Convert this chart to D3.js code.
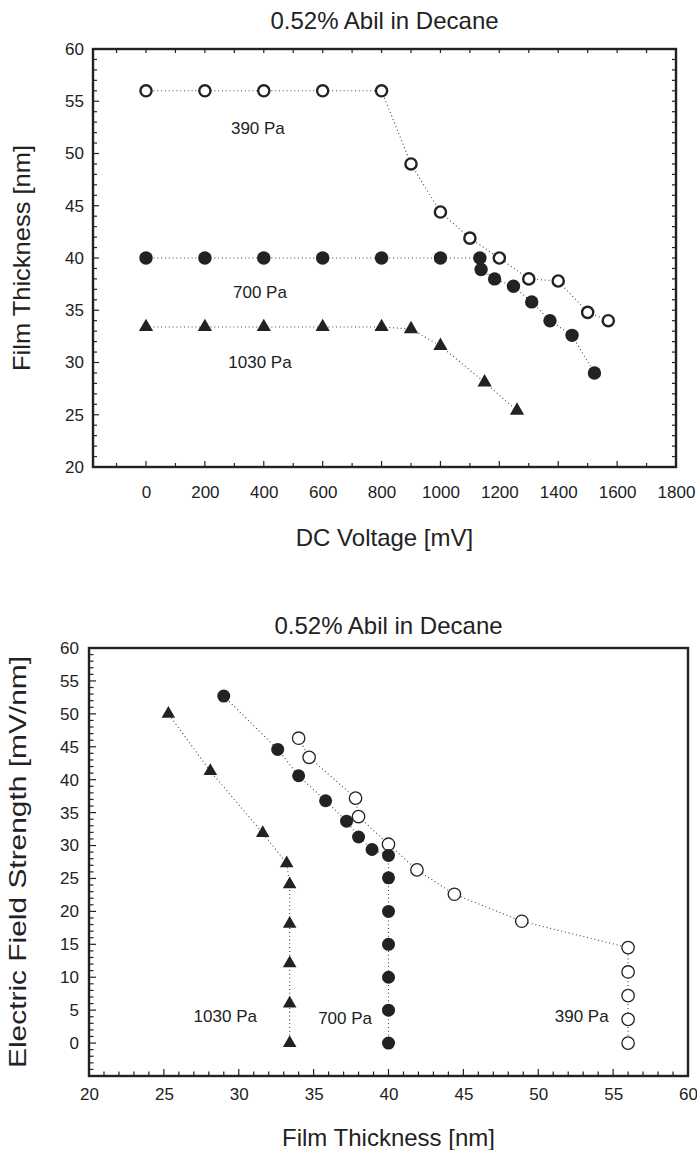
<!DOCTYPE html>
<html><head><meta charset="utf-8">
<script src="https://cdn.jsdelivr.net/npm/d3@7"></script>
<style>
html,body{margin:0;padding:0;background:#fff;}
svg{display:block;font-family:"Liberation Sans",Arial,sans-serif;}
</style></head>
<body>
<svg id="c" width="697" height="1150"></svg>
<script>
// ---------- DATA ----------
const title = "0.52% Abil in Decane";
const seriesNames = ["390 Pa", "700 Pa", "1030 Pa"];

// Top chart: Film thickness vs DC voltage
const v390 = [0, 200, 400, 600, 800, 900, 1000, 1100, 1200, 1300, 1400, 1500, 1570];
const t390 = [56, 56, 56, 56, 56, 49.0, 44.4, 41.9, 40.0, 38.0, 37.8, 34.8, 34.0];
const v700 = [0, 200, 400, 600, 800, 1000, 1134, 1138, 1184, 1248, 1310, 1372, 1447, 1523];
const t700 = [40, 40, 40, 40, 40, 40, 40.0, 38.9, 38.0, 37.3, 35.8, 34.0, 32.6, 29.0];
const v1030 = [0, 200, 400, 600, 800, 900, 1000, 1150, 1260];
const t1030 = [33.4, 33.4, 33.4, 33.4, 33.4, 33.2, 31.6, 28.1, 25.4];

// Bottom chart: Electric field strength vs film thickness
const ft390 = [56, 56, 56, 56, 56, 48.9, 44.4, 41.9, 40.0, 38.0, 37.8, 34.7, 34.0];
const e390  = [0, 3.6, 7.2, 10.8, 14.5, 18.5, 22.6, 26.3, 30.2, 34.4, 37.2, 43.4, 46.3];
const ft700 = [40, 40, 40, 40, 40, 40, 40, 38.9, 38.0, 37.2, 35.8, 34.0, 32.6, 29.0];
const e700  = [0, 5, 10, 15, 20, 25.1, 28.5, 29.4, 31.3, 33.7, 36.8, 40.6, 44.6, 52.7];
const ft1030 = [33.4, 33.4, 33.4, 33.4, 33.4, 33.2, 31.6, 28.1, 25.3];
const e1030  = [0, 6, 12.1, 18.1, 24.1, 27.3, 31.9, 41.3, 50.0];

// Tick values
const topXTicks = [0, 200, 400, 600, 800, 1000, 1200, 1400, 1600, 1800];
const topYTicks = [20, 25, 30, 35, 40, 45, 50, 55, 60];
const botXTicks = [20, 25, 30, 35, 40, 45, 50, 55, 60];
const botYTicks = [0, 5, 10, 15, 20, 25, 30, 35, 40, 45, 50, 55, 60];

// Annotation anchors (data coordinates)
const topLabelAt = [[380, 52.4], [387, 36.7], [387, 30.0]];
const botLabelAt = [[52.9, 4.1], [37.1, 3.8], [29.1, 4.1]];

// ---------- DRAW ----------
const svg = d3.select("#c");
const INK = "#222";
svg.append("rect").attr("width", 697).attr("height", 1150).attr("fill", "#fff");

function zip(a, b) { return a.map((d, i) => [d, b[i]]); }

function panel(o) {
  const g = svg.append("g");
  const x = d3.scaleLinear().domain(o.xd).range([o.L, o.R]);
  const y = d3.scaleLinear().domain(o.yd).range([o.B, o.T]);

  // minor + major ticks (inward)
  const minorX = d3.range(o.xMinor[0], o.xd[1] + 1e-9, o.xMinor[1]).filter(v => v > o.xd[0] && v < o.xd[1]);
  const minorY = d3.range(o.yMinor[0], o.yd[1] + 1e-9, o.yMinor[1]).filter(v => v > o.yd[0] && v < o.yd[1]);
  const tk = g.append("g").attr("stroke", INK).attr("stroke-width", 1.2);
  minorX.forEach(v => {
    const major = o.xTicks.includes(v);
    tk.append("line").attr("x1", x(v)).attr("x2", x(v)).attr("y1", o.B).attr("y2", o.B - (major ? o.majLen : o.minLen));
    if (o.allSides) tk.append("line").attr("x1", x(v)).attr("x2", x(v)).attr("y1", o.T).attr("y2", o.T + o.minLen);
  });
  minorY.forEach(v => {
    const major = o.yTicks.includes(v);
    tk.append("line").attr("y1", y(v)).attr("y2", y(v)).attr("x1", o.L).attr("x2", o.L + (major ? o.majLen : o.minLen));
    if (o.allSides) tk.append("line").attr("y1", y(v)).attr("y2", y(v)).attr("x1", o.R).attr("x2", o.R - o.minLen);
  });

  // tick labels via d3 axes (domain & tick lines hidden)
  const ax = g.append("g").attr("transform", `translate(0,${o.B})`)
    .call(d3.axisBottom(x).tickValues(o.xTicks).tickSize(0).tickPadding(o.xPad).tickFormat(d3.format("d")));
  const ay = g.append("g").attr("transform", `translate(${o.L},0)`)
    .call(d3.axisLeft(y).tickValues(o.yTicks).tickSize(0).tickPadding(o.yPad).tickFormat(d3.format("d")));
  [ax, ay].forEach(a => {
    a.select(".domain").remove();
    a.selectAll("text").attr("font-size", 17).attr("fill", INK).attr("font-family", "Liberation Sans, Arial, sans-serif");
  });

  // frame
  g.append("rect").attr("x", o.L).attr("y", o.T).attr("width", o.R - o.L).attr("height", o.B - o.T)
    .attr("fill", "none").attr("stroke", INK).attr("stroke-width", 2.4);

  // titles
  g.append("text").attr("x", (o.L + o.R) / 2).attr("y", o.titleY).attr("text-anchor", "middle")
    .attr("font-size", 24).attr("fill", INK).text(title);
  g.append("text").attr("x", (o.L + o.R) / 2).attr("y", o.xLabY).attr("text-anchor", "middle")
    .attr("font-size", 24).attr("fill", INK).text(o.xLabel);
  g.append("text").attr("transform", `translate(${o.yLabX},${(o.T + o.B) / 2}) rotate(-90)`)
    .attr("text-anchor", "middle").attr("font-size", 24).attr("fill", INK)
    .attr("textLength", o.yLabLen).attr("lengthAdjust", "spacingAndGlyphs").text(o.yLabel);

  // series lines
  const line = d3.line().x(d => x(d[0])).y(d => y(d[1]));
  o.series.forEach(s => {
    g.append("path").attr("d", line(s.pts)).attr("fill", "none").attr("stroke", "#444")
      .attr("stroke-width", 1.1).attr("stroke-dasharray", "1,2.8");
  });
  // markers
  o.series.forEach(s => {
    const mg = g.append("g");
    s.pts.forEach(p => {
      if (s.kind === "open") {
        mg.append("circle").attr("cx", x(p[0])).attr("cy", y(p[1])).attr("r", o.openR)
          .attr("fill", "#fff").attr("stroke", INK).attr("stroke-width", o.openW);
      } else if (s.kind === "fill") {
        mg.append("circle").attr("cx", x(p[0])).attr("cy", y(p[1])).attr("r", o.fillR).attr("fill", INK);
      } else {
        mg.append("path").attr("d", d3.symbol(d3.symbolTriangle, o.triS)())
          .attr("transform", `translate(${x(p[0])},${y(p[1])})`).attr("fill", INK);
      }
    });
  });

  // annotations
  o.labels.forEach((p, i) => {
    g.append("text").attr("x", x(p[0])).attr("y", y(p[1])).attr("text-anchor", "middle")
      .attr("dominant-baseline", "central").attr("font-size", 17).attr("fill", INK).text(seriesNames[i]);
  });
}

panel({
  L: 93, R: 676, T: 49, B: 467,
  xd: [-180, 1800], yd: [20, 60],
  xTicks: topXTicks, yTicks: topYTicks,
  xMinor: [-100, 100], yMinor: [20, 1],
  majLen: 6, minLen: 4, allSides: true,
  xPad: 19, yPad: 9,
  titleY: 29,
  xLabel: "DC Voltage [mV]", yLabel: "Film Thickness [nm]",
  xLabY: 546, yLabX: 30, yLabLen: 226,
  openR: 5.6, openW: 2.4, fillR: 6.7, triS: 88,
  series: [
    { kind: "open", pts: zip(v390, t390) },
    { kind: "fill", pts: zip(v700, t700) },
    { kind: "tri", pts: zip(v1030, t1030) }
  ],
  labels: topLabelAt
});

panel({
  L: 89, R: 688, T: 648, B: 1076,
  xd: [20, 60], yd: [-5, 60],
  xTicks: botXTicks, yTicks: botYTicks,
  xMinor: [21, 1], yMinor: [-4, 1],
  majLen: 7, minLen: 4.5, allSides: false,
  xPad: 12, yPad: 10,
  titleY: 634,
  xLabel: "Film Thickness [nm]", yLabel: "Electric Field Strength [mV/nm]",
  xLabY: 1146, yLabX: 26, yLabLen: 412,
  openR: 6.2, openW: 1.3, fillR: 6.5, triS: 80,
  series: [
    { kind: "open", pts: zip(ft390, e390) },
    { kind: "fill", pts: zip(ft700, e700) },
    { kind: "tri", pts: zip(ft1030, e1030) }
  ],
  labels: botLabelAt
});
</script>
</body></html>
